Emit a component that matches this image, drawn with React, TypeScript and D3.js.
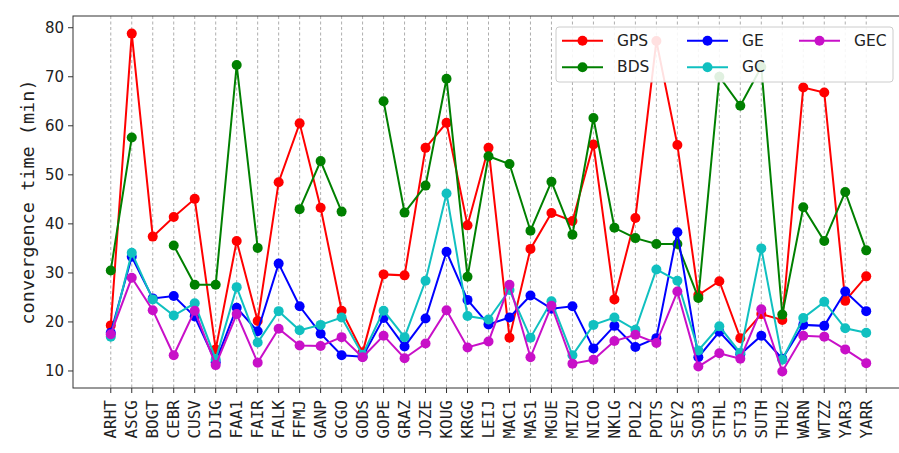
import React from "react";
import * as d3 from "d3";

// Stations along the x axis
const stations = [
  "ARHT", "ASCG", "BOGT", "CEBR", "CUSV", "DJIG", "FAA1", "FAIR", "FALK", "FFMJ",
  "GANP", "GCGO", "GODS", "GOPE", "GRAZ", "JOZE", "KOUG", "KRGG", "LEIJ", "MAC1",
  "MAS1", "MGUE", "MIZU", "NICO", "NKLG", "POL2", "POTS", "SEY2", "SOD3", "STHL",
  "STJ3", "SUTH", "THU2", "WARN", "WTZZ", "YAR3", "YARR",
];

// Convergence time (min) per solution; NaN = no solution
const gps = [19.3, 78.8, 37.4, 41.4, 45.1, 14.4, 36.5, 20.2, 48.5, 60.5, 43.3, 22.3, 13.8, 29.7, 29.5, 55.5, 60.6, 39.7, 55.5, 16.8, 34.9, 42.2, 40.6, 56.2, 24.6, 41.2, 77.3, 56.1, 25.5, 28.3, 16.7, 21.6, 20.4, 67.8, 66.8, 24.3, 29.3];
const bds = [30.5, 57.6, NaN, 35.6, 27.6, 27.6, 72.4, 35.1, NaN, 43.0, 52.8, 42.5, NaN, 65.0, 42.3, 47.8, 69.6, 29.2, 53.8, 52.2, 38.6, 48.6, 37.8, 61.6, 39.2, 37.1, 35.9, 35.9, 24.9, 70.0, 64.1, 72.0, 21.5, 43.4, 36.5, 46.5, 34.6];
const ge = [17.8, 33.3, 24.8, 25.3, 21.1, 11.8, 22.9, 18.1, 31.9, 23.2, 17.6, 13.2, 12.9, 20.8, 15.0, 20.7, 34.3, 24.5, 19.5, 20.9, 25.4, 22.7, 23.2, 14.6, 19.2, 14.9, 16.7, 38.3, 12.8, 18.0, 13.4, 17.2, 12.5, 19.4, 19.2, 26.2, 22.2];
const gc = [17.0, 34.1, 24.6, 21.3, 23.8, 12.4, 27.1, 15.8, 22.2, 18.3, 19.4, 20.9, 13.3, 22.3, 16.9, 28.4, 46.2, 21.2, 20.5, 26.5, 16.8, 24.2, 13.2, 19.4, 20.9, 18.4, 30.7, 28.4, 14.2, 19.1, 13.7, 35.0, 12.3, 20.8, 24.1, 18.7, 17.8];
const gec = [17.5, 29.0, 22.4, 13.2, 22.3, 11.2, 21.6, 11.7, 18.6, 15.2, 15.1, 16.9, 12.8, 17.2, 12.6, 15.6, 22.4, 14.8, 16.0, 27.6, 12.8, 23.3, 11.5, 12.3, 16.1, 17.4, 15.7, 26.2, 10.9, 13.6, 12.5, 22.6, 9.9, 17.2, 17.0, 14.4, 11.6];

const yTicks = [10, 20, 30, 40, 50, 60, 70, 80];

const series = [
  { name: "GPS", values: gps, color: "#ff0000" },
  { name: "BDS", values: bds, color: "#008000" },
  { name: "GE", values: ge, color: "#0000ff" },
  { name: "GC", values: gc, color: "#10c0c0" },
  { name: "GEC", values: gec, color: "#c810c8" },
];

const W = 899;
const H = 453;
const plot = { left: 73, right: 904, top: 16, bottom: 388 };

export default function App() {
  const n = stations.length;
  const pad = 0.05 * (n - 1);
  const x = d3.scaleLinear().domain([-pad, n - 1 + pad]).range([plot.left, plot.right]);
  const y = d3.scaleLinear().domain([6.53, 82.39]).range([plot.bottom, plot.top]);

  const line = d3
    .line<number>()
    .defined((v) => !Number.isNaN(v))
    .x((_, i) => x(i))
    .y((v) => y(v));

  // Legend: 3 columns, filled column-wise
  const legendCols = [
    { lineX: 562, textX: 617 },
    { lineX: 687, textX: 742 },
    { lineX: 799, textX: 854 },
  ];
  const legendRows = [40.7, 67.3];

  return (
    <svg
      width={W}
      height={H}
      style={{ position: "absolute", left: 0, top: 0, background: "#fff" }}
    >
      <rect x={0} y={0} width={W} height={H} fill="#fff" />

      {/* vertical dashed grid at each station */}
      {stations.map((s, i) => (
        <line
          key={"g" + s}
          x1={x(i)}
          x2={x(i)}
          y1={plot.top}
          y2={plot.bottom}
          stroke="#999"
          strokeWidth={0.8}
          strokeDasharray="3,2.5"
        />
      ))}

      {/* series */}
      {series.map((s) => (
        <g key={s.name}>
          <path d={line(s.values) || ""} fill="none" stroke={s.color} strokeWidth={2} />
          {s.values.map((v, i) =>
            Number.isNaN(v) ? null : (
              <circle key={i} cx={x(i)} cy={y(v)} r={5} fill={s.color} />
            )
          )}
        </g>
      ))}

      {/* frame */}
      <rect
        x={plot.left}
        y={plot.top}
        width={plot.right - plot.left}
        height={plot.bottom - plot.top}
        fill="none"
        stroke="#333"
        strokeWidth={1}
      />

      {/* y axis */}
      {yTicks.map((t) => (
        <g key={"y" + t}>
          <line x1={plot.left - 5} x2={plot.left} y1={y(t)} y2={y(t)} stroke="#333" />
          <text
            x={plot.left - 9}
            y={y(t)}
            textAnchor="end"
            dominantBaseline="central"
            fontFamily="DejaVu Sans"
            fontSize={15}
            fill="#222"
          >
            {t}
          </text>
        </g>
      ))}
      <text
        transform={`translate(34, ${(plot.top + plot.bottom) / 2}) rotate(-90)`}
        textAnchor="middle"
        fontFamily="DejaVu Sans Mono"
        fontSize={18.5}
        fill="#222"
      >
        convergence time (min)
      </text>

      {/* x axis */}
      {stations.map((s, i) => (
        <g key={"x" + s}>
          <line x1={x(i)} x2={x(i)} y1={plot.bottom} y2={plot.bottom + 5} stroke="#333" />
          <text
            transform={`translate(${x(i)}, ${plot.bottom + 12}) rotate(-90)`}
            textAnchor="end"
            dominantBaseline="central"
            fontFamily="DejaVu Sans Mono"
            fontSize={16}
            fill="#222"
          >
            {s}
          </text>
        </g>
      ))}

      {/* legend */}
      <rect
        x={556}
        y={27}
        width={337}
        height={55}
        rx={3}
        fill="#fff"
        fillOpacity={0.88}
        stroke="#cccccc"
        strokeWidth={1}
      />
      {series.map((s, k) => {
        const col = legendCols[Math.floor(k / 2)];
        const ry = legendRows[k % 2];
        return (
          <g key={"l" + s.name}>
            <line x1={col.lineX} x2={col.lineX + 41} y1={ry} y2={ry} stroke={s.color} strokeWidth={2} />
            <circle cx={col.lineX + 20.5} cy={ry} r={5} fill={s.color} />
            <text
              x={col.textX}
              y={ry}
              dominantBaseline="central"
              fontFamily="DejaVu Sans"
              fontSize={15.5}
              fill="#222"
            >
              {s.name}
            </text>
          </g>
        );
      })}
    </svg>
  );
}
